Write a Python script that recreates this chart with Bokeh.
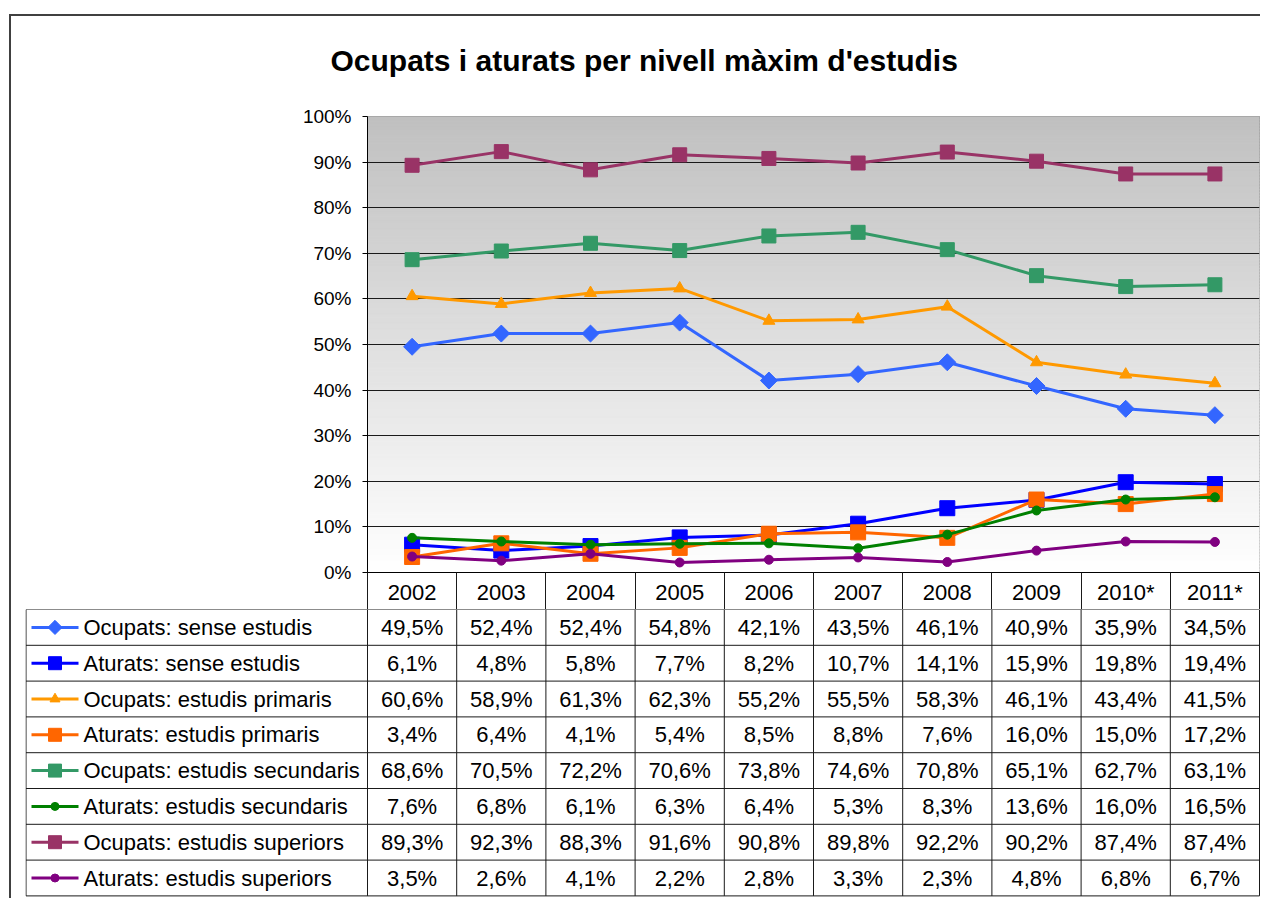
import numpy as np
from bokeh.plotting import figure
from bokeh.models import Range1d, FixedTicker
from bokeh.embed import file_html
from bokeh.resources import INLINE
from bokeh.core.properties import value

# ---------------- data ----------------
years = ["2002", "2003", "2004", "2005", "2006", "2007", "2008", "2009", "2010*", "2011*"]

series_names = [
    "Ocupats: sense estudis",
    "Aturats: sense estudis",
    "Ocupats: estudis primaris",
    "Aturats: estudis primaris",
    "Ocupats: estudis secundaris",
    "Aturats: estudis secundaris",
    "Ocupats: estudis superiors",
    "Aturats: estudis superiors",
]

ocupats_sense = [49.5, 52.4, 52.4, 54.8, 42.1, 43.5, 46.1, 40.9, 35.9, 34.5]
aturats_sense = [6.1, 4.8, 5.8, 7.7, 8.2, 10.7, 14.1, 15.9, 19.8, 19.4]
ocupats_primaris = [60.6, 58.9, 61.3, 62.3, 55.2, 55.5, 58.3, 46.1, 43.4, 41.5]
aturats_primaris = [3.4, 6.4, 4.1, 5.4, 8.5, 8.8, 7.6, 16.0, 15.0, 17.2]
ocupats_secundaris = [68.6, 70.5, 72.2, 70.6, 73.8, 74.6, 70.8, 65.1, 62.7, 63.1]
aturats_secundaris = [7.6, 6.8, 6.1, 6.3, 6.4, 5.3, 8.3, 13.6, 16.0, 16.5]
ocupats_superiors = [89.3, 92.3, 88.3, 91.6, 90.8, 89.8, 92.2, 90.2, 87.4, 87.4]
aturats_superiors = [3.5, 2.6, 4.1, 2.2, 2.8, 3.3, 2.3, 4.8, 6.8, 6.7]

series_values = [ocupats_sense, aturats_sense, ocupats_primaris, aturats_primaris,
                 ocupats_secundaris, aturats_secundaris, ocupats_superiors, aturats_superiors]

y_ticks = [0, 10, 20, 30, 40, 50, 60, 70, 80, 90, 100]

# ---------------- styles ----------------
colors = ["#3366FF", "#0000FF", "#FF9900", "#FF6600", "#339966", "#008000", "#993366", "#800080"]
markers = ["square", "square", "triangle", "square", "square", "circle", "square", "circle"]
angles = [np.pi / 4, 0, 0, 0, 0, 0, 0, 0]
msizes = [12, 15, 12, 15, 14, 9, 14, 9]
lsizes = [10, 13, 10, 13, 13, 8, 13, 8]

FONT = "Liberation Sans"
UNIT = 89.2          # pixels per category column
LEG_W = 342          # legend column width (px)
HEAD_H = 37          # header row (years) height (px)
ROW_H = 35.8         # table row height (px)
BORDER = "#404040"
LC = "#1a1a1a"

n = len(years)
xs = np.arange(n) + 0.5

frame_css = {
    "background-image": f"linear-gradient({BORDER},{BORDER}), linear-gradient({BORDER},{BORDER})",
    "background-size": "2px 100%, 100% 2px",
    "background-position": "9px 14px, 9px 14px",
    "background-repeat": "no-repeat",
}
frame_css_b = {
    "background-image": f"linear-gradient({BORDER},{BORDER})",
    "background-size": "2px 100%",
    "background-position": "9px 0px",
    "background-repeat": "no-repeat",
}

# ---------------- chart (with year header row as its x axis) ----------------
pA = figure(width=1260, height=572 + HEAD_H, x_range=Range1d(0, n), y_range=Range1d(0, 100),
            output_backend="svg", toolbar_location=None,
            min_border_left=367, min_border_right=1, min_border_top=116, min_border_bottom=HEAD_H,
            styles=frame_css)
pA.background_fill_color = "white"
pA.border_fill_alpha = 0
pA.outline_line_color = "#808080"
pA.outline_line_width = 1

# gradient background (grey top -> white bottom)
nb = 150
edges = np.linspace(0, 100, nb + 1)
mid = (edges[:-1] + edges[1:]) / 2 / 100.0
grey = 255 - (255 - 192) * mid
gcols = ["#%02x%02x%02x" % (int(round(g)), int(round(g)), int(round(g))) for g in grey]
pA.quad(left=0, right=n, bottom=edges[:-1], top=edges[1:], fill_color=gcols,
        line_color=gcols, line_width=1, level="image")

pA.xgrid.visible = False
pA.ygrid.ticker = FixedTicker(ticks=y_ticks)
pA.ygrid.grid_line_color = LC
pA.ygrid.grid_line_width = 1

ax = pA.yaxis[0]
ax.ticker = FixedTicker(ticks=y_ticks)
ax.major_label_overrides = {t: f"{t}%" for t in y_ticks}
ax.minor_tick_line_color = None
ax.major_tick_in = 0
ax.major_tick_out = 5
ax.major_tick_line_color = "black"
ax.axis_line_color = "black"
ax.major_label_standoff = 11
ax.major_label_text_font = FONT
ax.major_label_text_font_size = "19px"
ax.major_label_text_color = "black"

xa = pA.xaxis[0]
xa.ticker = FixedTicker(ticks=list(xs), minor_ticks=list(range(n + 1)))
xa.major_label_overrides = {float(x): y for x, y in zip(xs, years)}
xa.major_tick_line_color = None
xa.major_tick_in = 0
xa.major_tick_out = 0
xa.minor_tick_in = 0
xa.minor_tick_out = HEAD_H
xa.minor_tick_line_color = LC
xa.minor_tick_line_width = 1
xa.axis_line_color = "black"
xa.major_label_standoff = -30
xa.major_label_text_font = FONT
xa.major_label_text_font_size = "22px"
xa.major_label_text_color = "black"

for vals, c, m, a, s in zip(series_values, colors, markers, angles, msizes):
    pA.line(xs, vals, line_color=c, line_width=3)
    pA.scatter(xs, vals, marker=m, angle=a, size=s, fill_color=c, line_color=c)

pA.title.text = "Ocupats i aturats per nivell màxim d'estudis"
pA.title.align = "left"
pA.title.offset = -37
pA.title.vertical_align = "middle"
pA.title.standoff = 78
pA.title.text_font = FONT
pA.title.text_font_size = "30px"
pA.title.text_font_style = "bold"
pA.title.text_color = "black"

# ---------------- data table ----------------
b_h = 898 - 572 - HEAD_H
left = -LEG_W / UNIT
right = n + 1 / UNIT
pB = figure(width=1260, height=b_h, x_range=Range1d(left, right),
            y_range=Range1d(b_h / ROW_H, 0),
            output_backend="svg", toolbar_location=None,
            x_axis_location=None, y_axis_location=None,
            min_border_left=25, min_border_right=0, min_border_top=0, min_border_bottom=0,
            styles=frame_css_b)
pB.grid.visible = False
pB.outline_line_color = None
pB.background_fill_color = "white"
pB.border_fill_alpha = 0

nrows = len(series_names)
# horizontal lines
hy = list(range(0, nrows + 1))
pB.segment(x0=[left + 0.5 / UNIT] * len(hy), y0=hy, x1=[n] * len(hy), y1=hy, line_color=LC, line_width=1)
# vertical lines
vx = list(range(0, n + 1))
pB.segment(x0=vx, y0=[0] * len(vx), x1=vx, y1=[nrows] * len(vx), line_color=LC, line_width=1)
pB.segment(x0=[left + 0.5 / UNIT], y0=[0], x1=[left + 0.5 / UNIT], y1=[nrows], line_color=LC, line_width=1)

# rows
sx0 = left + 6 / UNIT
sx1 = left + 53 / UNIT
smid = (sx0 + sx1) / 2
lab_x = left + 58 / UNIT
for r, (name, vals, c, m, a, s) in enumerate(zip(series_names, series_values, colors, markers, angles, lsizes)):
    yc = r + 0.5
    labels = [f"{v:.1f}".replace(".", ",") + "%" for v in vals]
    pB.text(x=xs, y=[yc] * n, text=labels, text_font=value(FONT), text_font_size="22px",
            text_align="center", text_baseline="middle", text_color="black")
    pB.segment(x0=[sx0], y0=[yc], x1=[sx1], y1=[yc], line_color=c, line_width=3)
    pB.scatter(x=[smid], y=[yc], marker=m, angle=a, size=s, fill_color=c, line_color=c)
    pB.text(x=[lab_x], y=[yc], text=[name], text_font=value(FONT), text_font_size="22px",
            text_align="left", text_baseline="middle", text_color="black")

open("out.html", "w").write(file_html([pA, pB], INLINE))
